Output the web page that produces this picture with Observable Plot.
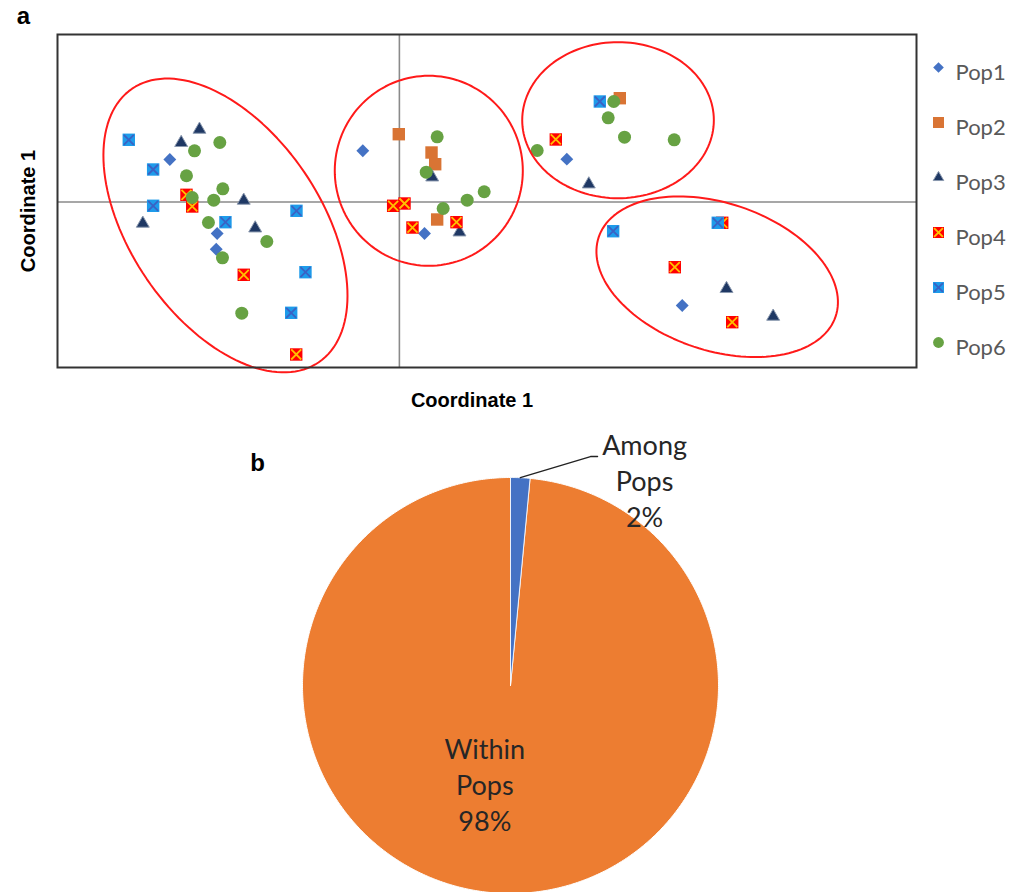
<!DOCTYPE html>
<html>
<head>
<meta charset="utf-8">
<script src="https://cdn.jsdelivr.net/npm/d3@7"></script>
<script src="https://cdn.jsdelivr.net/npm/@observablehq/plot@0.6"></script>
<style>
html, body { margin: 0; padding: 0; background: #fff; }
#wrap { position: relative; width: 1026px; height: 892px; overflow: hidden; background: #fff; }
#wrap svg { position: absolute; display: block; max-width: none; }
</style>
</head>
<body>
<div id="wrap"></div>
<script>
// ---------------- DATA ----------------
const populations = ["Pop1", "Pop2", "Pop3", "Pop4", "Pop5", "Pop6"];

// PCoA coordinates [coordinate 1 (horizontal), coordinate 2 (vertical)]
const pop1 = [[-0.2686, 0.0853], [-0.2132, -0.0632], [-0.2143, -0.0947], [-0.0428, 0.1027],
              [0.0294, -0.0632], [0.1959, 0.0859], [0.3309, -0.2076]];
const pop2 = [[-0.0007, 0.1360], [0.0376, 0.0993], [0.0419, 0.0758], [0.0442, -0.0351],
              [0.2579, 0.2082]];
const pop3 = [[-0.2339, 0.1454], [-0.2553, 0.1188], [-0.1821, 0.0030], [-0.3002, -0.0431],
              [-0.1687, -0.0526], [0.0384, 0.0497], [0.0703, -0.0606], [0.2216, 0.0357],
              [0.3827, -0.1741], [0.4373, -0.2297]];
const pop4 = [[-0.2491, 0.0144], [-0.2424, -0.0090], [-0.1821, -0.1460], [-0.1207, -0.3059],
              [-0.0073, -0.0076], [0.0060, -0.0030], [0.0153, -0.0512], [0.0668, -0.0405],
              [0.1830, 0.1254], [0.3777, -0.0417], [0.3222, -0.1308], [0.3894, -0.2411]];
const pop5 = [[-0.3166, 0.1248], [-0.2881, 0.0652], [-0.2881, -0.0076], [-0.2035, -0.0405],
              [-0.1204, -0.0177], [-0.1099, -0.1408], [-0.1266, -0.2223], [0.2345, 0.2016],
              [0.2501, -0.0586], [0.3725, -0.0417]];
const pop6 = [[-0.2397, 0.1027], [-0.2101, 0.1194], [-0.2491, 0.0526], [-0.2066, 0.0265],
              [-0.2424, 0.0090], [-0.2172, 0.0036], [-0.2234, -0.0411], [-0.1551, -0.0792],
              [-0.2070, -0.1119], [-0.1844, -0.2231], [0.0442, 0.1308], [0.0314, 0.0598],
              [0.0512, -0.0130], [0.0793, 0.0036], [0.0992, 0.0205], [0.2508, 0.2016],
              [0.2443, 0.1689], [0.2634, 0.1300], [0.3215, 0.1248], [0.1612, 0.1033]];

// cluster ellipses: centre and two conjugate semi-axes (data units)
const ellipseCenters = [[-0.2035, -0.0471], [0.0344, 0.0626], [0.2558, 0.1641], [0.3718, -0.1500]];
const ellipseAxisU   = [[0.1092, -0.2744], [0.1100, 0], [0.1121, 0], [0.1386, -0.0795]];
const ellipseAxisV   = [[-0.0920, -0.1075], [0, 0.1906], [0, 0.1565], [-0.0274, -0.1402]];

const axisTitleX = "Coordinate 1";
const axisTitleY = "Coordinate 1";

// AMOVA pie
const pieCategories = ["Among\nPops", "Within\nPops"];
const pieValues = [1.5, 98.5];
const pieLabels = ["2%", "98%"];

// ---------------- STYLE ----------------
const popSeries = { Pop1: pop1, Pop2: pop2, Pop3: pop3, Pop4: pop4, Pop5: pop5, Pop6: pop6 };
const popStyle = {
  Pop1: { symbol: "diamond2", r: 5.8, fill: "#4472C4" },
  Pop2: { symbol: "square", r: 7, fill: "#D97434" },
  Pop3: { symbol: "triangle", r: 4.8, fill: "#1F3864", stroke: "#8A98AE", strokeWidth: 1 },
  Pop4: { symbol: "square", r: 7, fill: "#FF0000", cross: "#FFC000" },
  Pop5: { symbol: "square", r: 7, fill: "#1E9BEA", cross: "#3A62C4" },
  Pop6: { symbol: "circle", r: 6.5, fill: "#67A243" }
};
const legendStyle = {
  Pop1: { r: 4.8 }, Pop2: { r: 6.2 }, Pop3: { r: 3.9 }, Pop4: { r: 6.2 }, Pop5: { r: 6.2 }, Pop6: { r: 5.4 }
};
const boldFont = "'Liberation Sans', Arial, sans-serif";
const bodyFont = "Lato, 'Open Sans', sans-serif";

function popMarks(name, data, style, extra = {}) {
  const marks = [
    Plot.dot(data, {
      ...extra,
      symbol: style.symbol, r: style.r, fill: style.fill,
      stroke: style.stroke ?? "none", strokeWidth: style.strokeWidth ?? 0
    })
  ];
  if (style.cross) {
    marks.push(Plot.dot(data, {
      ...extra,
      symbol: "times", r: style.r * 0.66, stroke: style.cross, strokeWidth: 1.8
    }));
  }
  return marks;
}

const wrap = document.getElementById("wrap");

// ---------------- PANEL A ----------------
const ellipsePts = ellipseCenters.flatMap((c, i) =>
  d3.range(0, 145).map(k => {
    const t = (k / 144) * 2 * Math.PI;
    return {
      id: i,
      x: c[0] + ellipseAxisU[i][0] * Math.cos(t) + ellipseAxisV[i][0] * Math.sin(t),
      y: c[1] + ellipseAxisU[i][1] * Math.cos(t) + ellipseAxisV[i][1] * Math.sin(t)
    };
  })
);

const titleStyle = { fontSize: 20, fontWeight: "bold", fill: "#000", fontFamily: boldFont, textAnchor: "middle", lineAnchor: "middle" };

const panelA = Plot.plot({
  width: 1026,
  height: 420,
  marginLeft: 57,
  marginRight: 110,
  marginTop: 34,
  marginBottom: 53,
  style: { fontFamily: boldFont, background: "white" },
  x: { domain: [-0.4, 0.605], axis: null },
  y: { domain: [-0.332, 0.336], axis: null },
  marks: [
    Plot.ruleX([0], { stroke: "#8a8a8a", strokeWidth: 1.6 }),
    Plot.ruleY([0], { stroke: "#8a8a8a", strokeWidth: 1.6 }),
    ...populations.flatMap(p => popMarks(p, popSeries[p], popStyle[p], { x: d => d[0], y: d => d[1] })),
    Plot.line(ellipsePts, { x: "x", y: "y", z: "id", stroke: "#FF1A1A", strokeWidth: 2 }),
    Plot.frame({ stroke: "#333", strokeWidth: 2 }),
    Plot.text([axisTitleX], { ...titleStyle, text: d => d, frameAnchor: "bottom", dx: -15, dy: 33 }),
    Plot.text([axisTitleY], { ...titleStyle, text: d => d, frameAnchor: "left", dx: -29, dy: 10, rotate: -90 }),
    Plot.text(["a"], { ...titleStyle, fontSize: 24, text: d => d, frameAnchor: "top-left", dx: -34, dy: -18 })
  ]
});
panelA.style.left = "0px";
panelA.style.top = "0px";
wrap.appendChild(panelA);

// ---------------- LEGEND ----------------
const legend = Plot.plot({
  width: 106,
  height: 333,
  margin: 0,
  style: { fontFamily: bodyFont, background: "white" },
  y: { type: "point", domain: populations, range: [31, 309], padding: 0, axis: null },
  marks: [
    ...populations.flatMap(p => popMarks(p, [p], { ...popStyle[p], ...legendStyle[p] },
      { y: d => d, frameAnchor: "left", dx: 18 })),
    Plot.text(populations, {
      y: d => d, text: d => d, frameAnchor: "left", dx: 35, dy: 5,
      textAnchor: "start", lineAnchor: "middle", fontSize: 22, fill: "#595959", fontFamily: bodyFont
    })
  ]
});
legend.style.left = "920px";
legend.style.top = "34px";
wrap.appendChild(legend);

// ---------------- PANEL B ----------------
const arcs = d3.pie().sort(null).startAngle(0)(pieValues);
const slicePts = arcs.flatMap((a, i) => {
  const n = Math.max(4, Math.ceil((a.endAngle - a.startAngle) / (Math.PI / 360)));
  const pts = [{ slice: i, x: 0, y: 0 }];
  for (let k = 0; k <= n; k++) {
    const ang = a.startAngle + (a.endAngle - a.startAngle) * k / n;
    pts.push({ slice: i, x: Math.sin(ang), y: Math.cos(ang) });
  }
  pts.push({ slice: i, x: 0, y: 0 });
  return pts;
});
const sliceColors = ["#4472C4", "#ED7D31"];

// leader line for the small slice, starting at its arc midpoint
const mAmong = (arcs[0].startAngle + arcs[0].endAngle) / 2;
const leaderStart = [Math.sin(mAmong), Math.cos(mAmong)];
const leaderElbow = [leaderStart[0] + 0.3375, leaderStart[1] + 0.102];
const leaderEnd = [leaderElbow[0] + 0.034, leaderElbow[1]];
const leader = [leaderStart, leaderElbow, leaderEnd];

const mWithin = (arcs[1].startAngle + arcs[1].endAngle) / 2;
const pieText = [
  { x: leaderEnd[0], y: leaderEnd[1], label: pieCategories[0] + "\n" + pieLabels[0] },
  { x: 0.48 * Math.sin(mWithin), y: 0.48 * Math.cos(mWithin), label: pieCategories[1] + "\n" + pieLabels[1] }
];
const pieTextStyle = { fontSize: 27, lineHeight: 1.33, fill: "#262626", fontFamily: bodyFont, textAnchor: "middle", lineAnchor: "middle" };

const panelB = Plot.plot({
  width: 1026,
  height: 472,
  margin: 0,
  style: { fontFamily: bodyFont, background: "white" },
  x: { domain: [-510 / 208, 516 / 208], axis: null },
  y: { domain: [-(472 - 265) / 208, 265 / 208], axis: null },
  marks: [
    Plot.line(slicePts.filter(d => d.slice === 1), { x: "x", y: "y", fill: sliceColors[1], stroke: "white", strokeWidth: 1 }),
    Plot.line(slicePts.filter(d => d.slice === 0), { x: "x", y: "y", fill: sliceColors[0], stroke: "white", strokeWidth: 0.8 }),
    Plot.line(leader, { x: d => d[0], y: d => d[1], stroke: "#222", strokeWidth: 1.3 }),
    Plot.text([pieText[0]], { ...pieTextStyle, x: "x", y: "y", text: "label", dx: 47, dy: 23 }),
    Plot.text([pieText[1]], { ...pieTextStyle, x: "x", y: "y", text: "label", dx: -21, dy: -2 }),
    Plot.text(["b"], {
      text: d => d, frameAnchor: "top-left", dx: 257, dy: 43, textAnchor: "middle", lineAnchor: "middle",
      fontSize: 24, fontWeight: "bold", fill: "#000", fontFamily: boldFont
    })
  ]
});
panelB.style.left = "0px";
panelB.style.top = "420px";
wrap.appendChild(panelB);
</script>
</body>
</html>
